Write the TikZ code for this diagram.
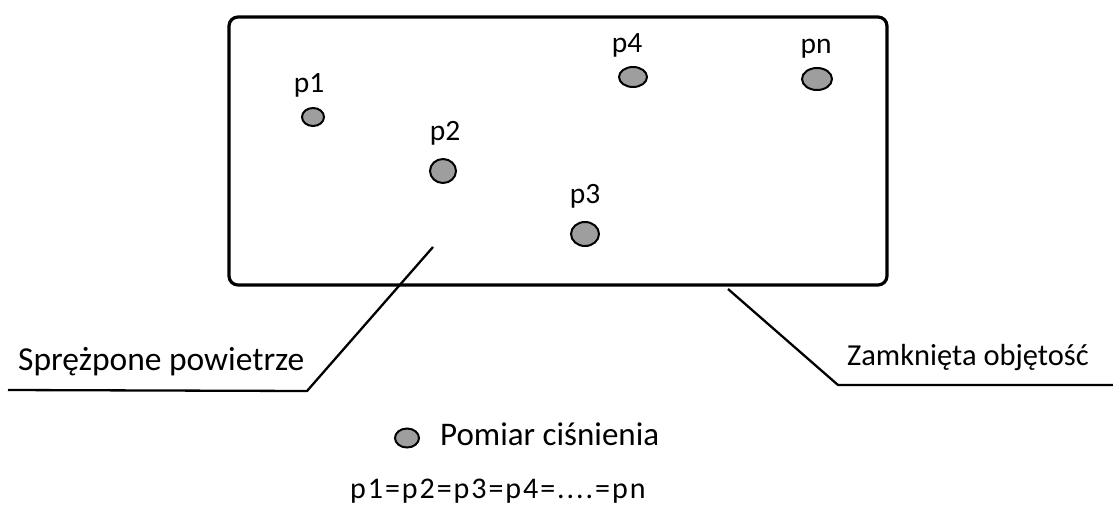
\documentclass[tikz,border=0pt]{standalone}
\usepackage{fontspec}
\setmainfont{Carlito}
\usetikzlibrary{shapes.geometric}
\begin{document}
\begin{tikzpicture}[x=1pt,y=-1pt,
  sensor/.style={ellipse,draw=black,line width=2pt,fill=black!38,inner sep=0pt},
  plabel/.style={anchor=base,font=\fontsize{29.5}{30}\selectfont,inner sep=0pt},
  biglabel/.style={anchor=base west,font=\fontsize{33.5}{35}\selectfont,inner sep=0pt},
  leader/.style={line width=2.3pt,line join=round}]
\useasboundingbox (0,0) rectangle (1113,517);
% enclosure
\node[draw,line width=3.2pt,rounded corners=9pt,minimum width=658pt,minimum height=268pt,inner sep=0pt] (box) at (558,151) {};
% sensors
\node[sensor,minimum width=22pt,minimum height=18pt] (s1) at (313,117) {};
\node[sensor,minimum width=26pt,minimum height=24pt] (s2) at (443,171) {};
\node[sensor,minimum width=28pt,minimum height=24pt] (s3) at (585,234) {};
\node[sensor,minimum width=28pt,minimum height=20pt] (s4) at (633,77) {};
\node[sensor,minimum width=30pt,minimum height=22pt] (sn) at (817,79) {};
\node[plabel] (l1) at (309,92) {p1};
\node[plabel] (l2) at (445,140) {p2};
\node[plabel] (l3) at (585,203) {p3};
\node[plabel] (l4) at (627,52) {p4};
\node[plabel] (ln) at (816,53) {pn};
% leaders
\coordinate (a0) at (433,247);
\coordinate (a1) at (307,391);
\coordinate (a2) at (8,390);
\coordinate (b0) at (728,289);
\coordinate (b1) at (838,385);
\coordinate (b2) at (1113,385);
\draw[leader] (a0) -- (a1) -- (a2);
\draw[leader] (b0) -- (b1) -- (b2);
\node[biglabel] (tl) at (18,370) {Sprężpone powietrze};
\node[biglabel,font=\fontsize{30.5}{32}\selectfont] (tr) at (847,365) {Zamknięta objętość};
% legend
\node[sensor,minimum width=24pt,minimum height=19pt] (leg) at (407,438) {};
\node[biglabel,font=\fontsize{33}{35}\selectfont] (legt) at (440,445) {Pomiar ciśnienia};
\node[anchor=base west,inner sep=0pt,font=\fontsize{30}{32}\selectfont\addfontfeature{LetterSpace=6.5}] (eq) at (350,498) {p1=p2=p3=p4=....=pn};
\end{tikzpicture}
\end{document}
